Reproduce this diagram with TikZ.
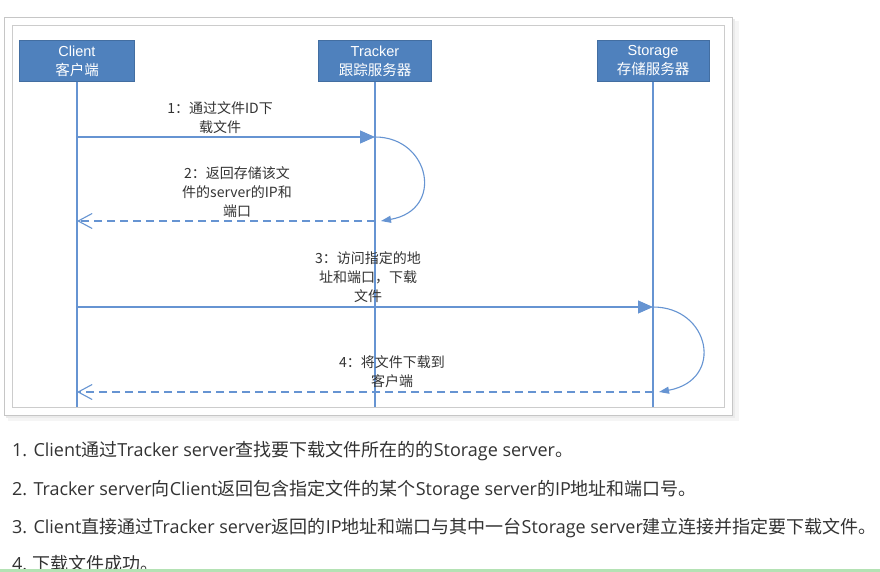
\documentclass[tikz,border=0pt]{standalone}
\usepackage{fontspec}
\setmainfont{Noto Sans CJK SC}
\newfontfamily\arialfont{Liberation Sans}
\newfontfamily\opensans{Open Sans}
\usetikzlibrary{arrows.meta}
\definecolor{boxblue}{HTML}{4F81BD}
\definecolor{lineblue}{HTML}{6694D2}
\definecolor{framegray}{HTML}{C6C6C6}
\definecolor{textgray}{HTML}{333333}
\definecolor{greenbar}{HTML}{B4E2B4}
\newcommand{\lat}[1]{{\opensans #1}}
\tikzset{
  actor/.style={draw=boxblue!85!black,fill=boxblue,text=white,minimum height=41pt,
    inner sep=0pt,align=center,font=\fontsize{14.5}{19}\selectfont},
  lifeline/.style={draw=lineblue,line width=1.1pt},
  call/.style={draw=lineblue,line width=1.1pt,-{Triangle[length=15pt,width=13pt]}},
  reply/.style={draw=lineblue,line width=1.1pt,dash pattern=on 8pt off 5pt,
    -{Straight Barb[length=14pt,width=15pt]}},
  selfloop/.style={draw=lineblue,line width=1.1pt,-{Triangle[length=10pt,width=7pt]}},
  msg/.style={text=textgray,align=center,inner sep=0pt,font=\fontsize{14}{19}\selectfont},
  note/.style={anchor=west,inner sep=0pt,text=textgray,font=\fontsize{18}{20}\selectfont}
}
\begin{document}
\begin{tikzpicture}[x=1pt,y=-1pt]
\clip (0,0) rectangle (880,572);
\fill[white] (0,0) rectangle (880,572);
% frame with shadow
\fill[black!4] (8,21) rectangle (739,421);
\fill[black!8] (6,19) rectangle (735,418);
\filldraw[fill=white,draw=framegray] (4,17) rectangle (732,415);
\draw[draw=framegray!90] (12,25) rectangle (724,407);
% actors
\node[actor,minimum width=115pt] (client) at (77,61) {{\arialfont Client}\\客户端};
\node[actor,minimum width=113pt] (tracker) at (375,61) {{\arialfont Tracker}\\跟踪服务器};
\node[actor,minimum width=112pt] (storage) at (653,61) {{\arialfont Storage}\\存储服务器};
\coordinate (clientend) at (77,407);
\coordinate (trackerend) at (375,407);
\coordinate (storageend) at (653,407);
\draw[lifeline] (client) -- (clientend);
\draw[lifeline] (tracker) -- (trackerend);
\draw[lifeline] (storage) -- (storageend);
% message points
\coordinate (c1) at (77,137);
\coordinate (t1) at (375,137);
\coordinate (t2) at (375,221);
\coordinate (t2tip) at (381,221);
\coordinate (c2) at (77,221);
\coordinate (c3) at (77,307);
\coordinate (s3) at (653,307);
\coordinate (s4) at (653,392);
\coordinate (s4tip) at (659,392);
\coordinate (c4) at (77,392);
% messages
\draw[call] (c1) -- (t1);
\draw[selfloop] (t1) .. controls (430,137) and (445,210) .. (t2tip);
\draw[reply] (t2) -- (c2);
\draw[call] (c3) -- (s3);
\draw[selfloop] (s3) .. controls (710,307) and (725,380) .. (s4tip);
\draw[reply] (s4) -- (c4);
\node[msg] (m1) at (220,118) {1：通过文件ID下\\载文件};
\node[msg] (m2) at (237,192) {2：返回存储该文\\件的server的IP和\\端口};
\node[msg] (m3) at (368,277) {3：访问指定的地\\址和端口，下载\\文件};
\node[msg] (m4) at (392,372) {4：将文件下载到\\客户端};
% steps below
\node[note] (step1) at (12,451) {\lat{1. Client}通过\lat{Tracker server}查找要下载文件所在的的\lat{Storage server}。};
\node[note] (step2) at (12,490) {\lat{2. Tracker server}向\lat{Client}返回包含指定文件的某个\lat{Storage server}的\lat{IP}地址和端口号。};
\node[note] (step3) at (12,528) {\lat{3. Client}直接通过\lat{Tracker server}返回的\lat{IP}地址和端口与其中一台\lat{Storage server}建立连接并指定要下载文件。};
\node[note] (step4) at (12,564) {\lat{4.} 下载文件成功。};
\fill[greenbar] (0,569) rectangle (880,572);
\end{tikzpicture}
\end{document}
